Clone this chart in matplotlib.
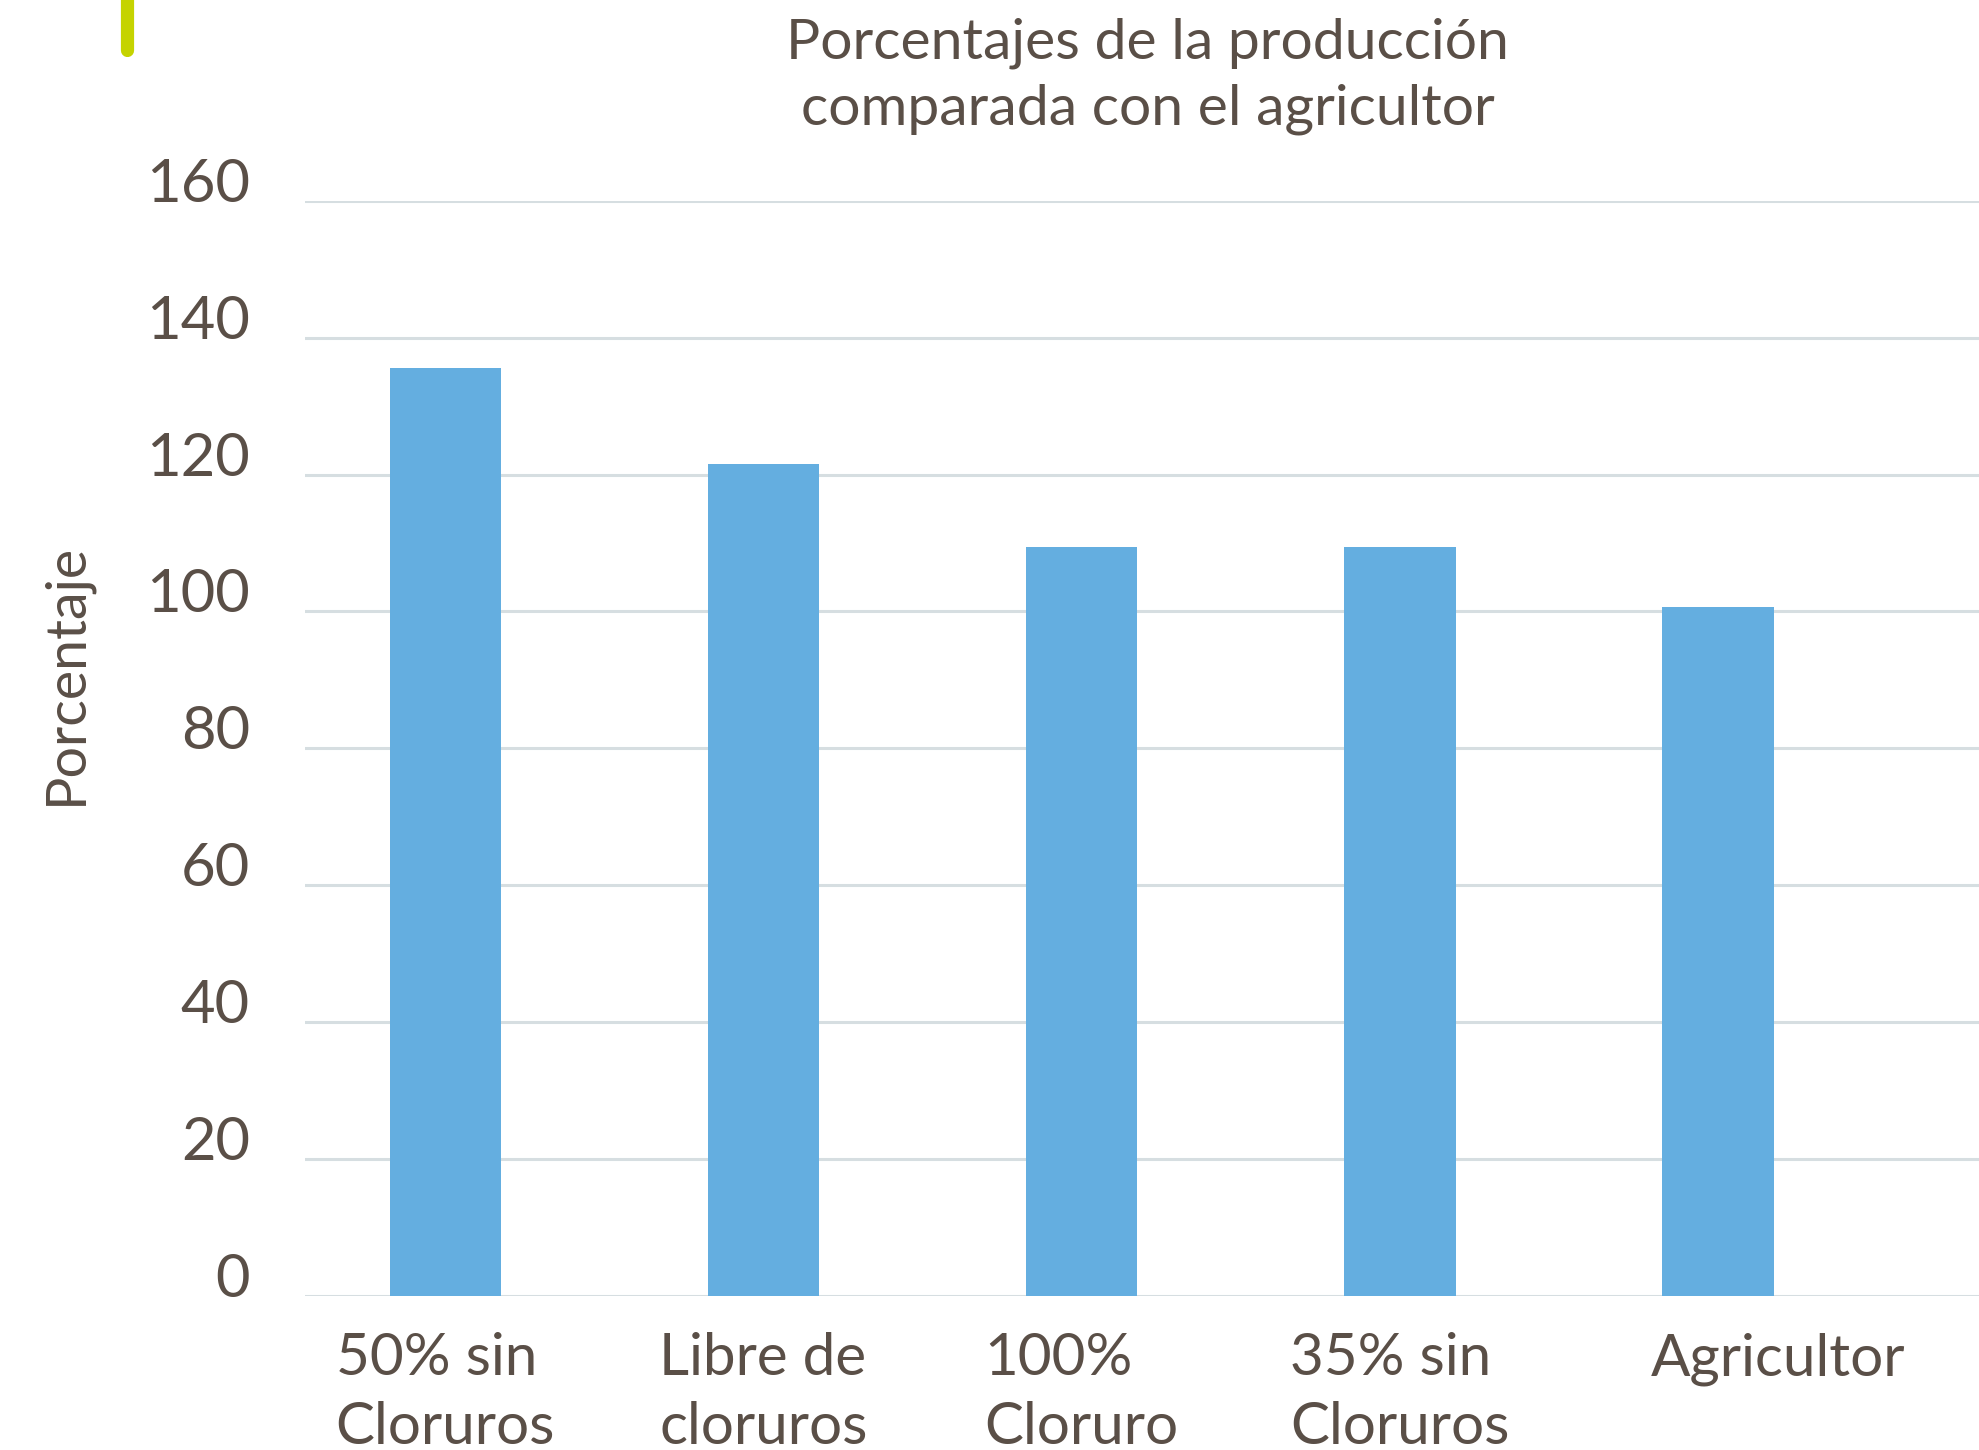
import matplotlib.pyplot as plt
from matplotlib.lines import Line2D
from matplotlib.transforms import ScaledTranslation

categories = ['50% sin\nCloruros', 'Libre de\ncloruros', '100%\nCloruro',
              '35% sin\nCloruros', 'Agricultor']
valores = [135.6, 121.5, 109.4, 109.4, 100.6]
yticks = [0, 20, 40, 60, 80, 100, 120, 140, 160]

text_color = '#5a4f47'
bar_color = '#64aee0'
grid_color = '#d6dee1'

plt.rcParams['font.family'] = ['Lato', 'DejaVu Sans']

fig = plt.figure(figsize=(19.79, 14.5), dpi=100)
ax = fig.add_axes([0.1543, 0.1062, 0.8457, 0.7554])

x = range(len(categories))
ax.bar(x, valores, width=0.35, color=bar_color, zorder=3)

ax.set_ylim(0, 160)
ax.set_xlim(-0.44, 4.82)
ax.set_yticks(yticks)
ax.set_yticklabels([str(t) for t in yticks], fontsize=43, color=text_color)
ax.set_xticks(list(x))
ax.set_xticklabels(categories, fontsize=42, color=text_color,
                   multialignment='left', linespacing=1.36)
ax.tick_params(axis='y', length=0, pad=40)
ax.tick_params(axis='x', length=0, pad=26)

# y labels sit a little above their gridlines
up = ScaledTranslation(0, 0.21, fig.dpi_scale_trans)
for lab in ax.get_yticklabels():
    lab.set_transform(lab.get_transform() + up)

# last label sits a bit to the right
right = ScaledTranslation(0.6, 0, fig.dpi_scale_trans)
last = ax.get_xticklabels()[-1]
last.set_transform(last.get_transform() + right)

ax.grid(axis='y', color=grid_color, linewidth=2.2, zorder=0)
for s in ax.spines.values():
    s.set_visible(False)

fig.text(0.0334, 0.535, 'Porcentaje', rotation=90, ha='center', va='center',
         fontsize=40, color=text_color)

fig.text(0.58, 0.988, 'Porcentajes de la producción\ncomparada con el agricultor',
         ha='center', va='top', fontsize=41, color=text_color, linespacing=1.36)

# green accent mark top-left
fig.add_artist(Line2D([0.0642, 0.0642], [1.02, 0.9655], transform=fig.transFigure,
                      color='#c5d300', linewidth=9.5, solid_capstyle='round'))

fig.savefig('out.png', dpi=100)
